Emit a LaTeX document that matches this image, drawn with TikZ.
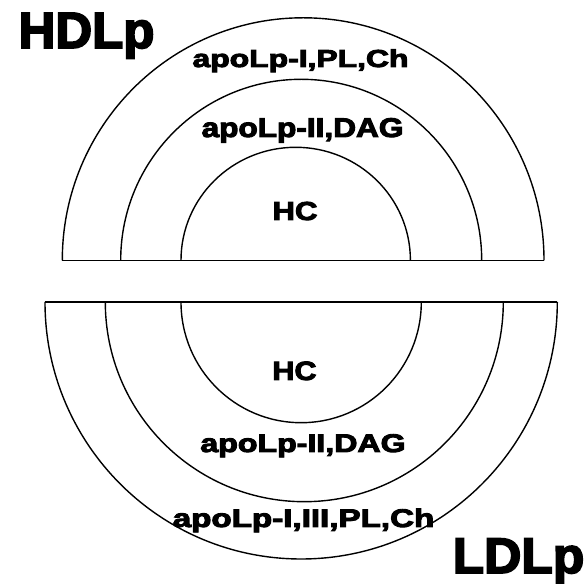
\documentclass[tikz,border=0pt]{standalone}
\usepackage{fontspec}
\usepackage{graphicx}
\newfontfamily\heavyfont{Liberation Sans Bold}[FakeBold=3.5]
\newcommand{\mylab}[3]{\heavyfont\fontsize{#1}{#1}\selectfont\scalebox{#2}[1]{#3}}
\tikzset{
  shell/.style={draw=black, line width=1.4pt},
  lab/.style={inner sep=0pt, anchor=base, text=black}
}
\begin{document}
\begin{tikzpicture}[x=1pt,y=1pt]
\useasboundingbox[fill=white] (0,0) rectangle (587,584);
% ---- top half (HDLp) : baseline y = 584-260.3
\draw[shell] (62.3,323.7) -- (544,323.7);
\draw[shell] (62.3,323.7) arc[start angle=180,end angle=0,x radius=240.85,y radius=242.5];
\draw[shell] (120.7,323.7) arc[start angle=180,end angle=0,x radius=180.5,y radius=181];
\draw[shell] (181,323.7) arc[start angle=180,end angle=0,x radius=114.7,y radius=113];
% ---- bottom half (LDLp) : baseline y = 584-302
\draw[shell] (45,282) -- (557.3,282);
\draw[shell] (45,282) arc[start angle=180,end angle=360,x radius=256.15,y radius=257];
\draw[shell] (105.3,282) arc[start angle=180,end angle=360,x radius=199,y radius=199.7];
\draw[shell] (181,282) arc[start angle=180,end angle=360,x radius=120.15,y radius=120.7];
% ---- labels
\node[lab] (hdlp) at (86.5,536) {\mylab{51}{1.0}{HDLp}};
\node[lab] (ldlp) at (518.5,11) {\mylab{50}{1.03}{LDLp}};
\node[lab] (t1) at (300.5,517) {\mylab{24.5}{1.30}{apoLp-I,PL,Ch}};
\node[lab] (t2) at (302.5,447) {\mylab{27}{1.17}{apoLp-II,DAG}};
\node[lab] (t3) at (295,364) {\mylab{26}{1.20}{HC}};
\node[lab] (b3) at (294.5,204) {\mylab{26.5}{1.15}{HC}};
\node[lab] (b2) at (303,132) {\mylab{25.5}{1.26}{apoLp-II,DAG}};
\node[lab] (b1) at (303.5,57) {\mylab{25.5}{1.30}{apoLp-I,III,PL,Ch}};
\end{tikzpicture}
\end{document}
